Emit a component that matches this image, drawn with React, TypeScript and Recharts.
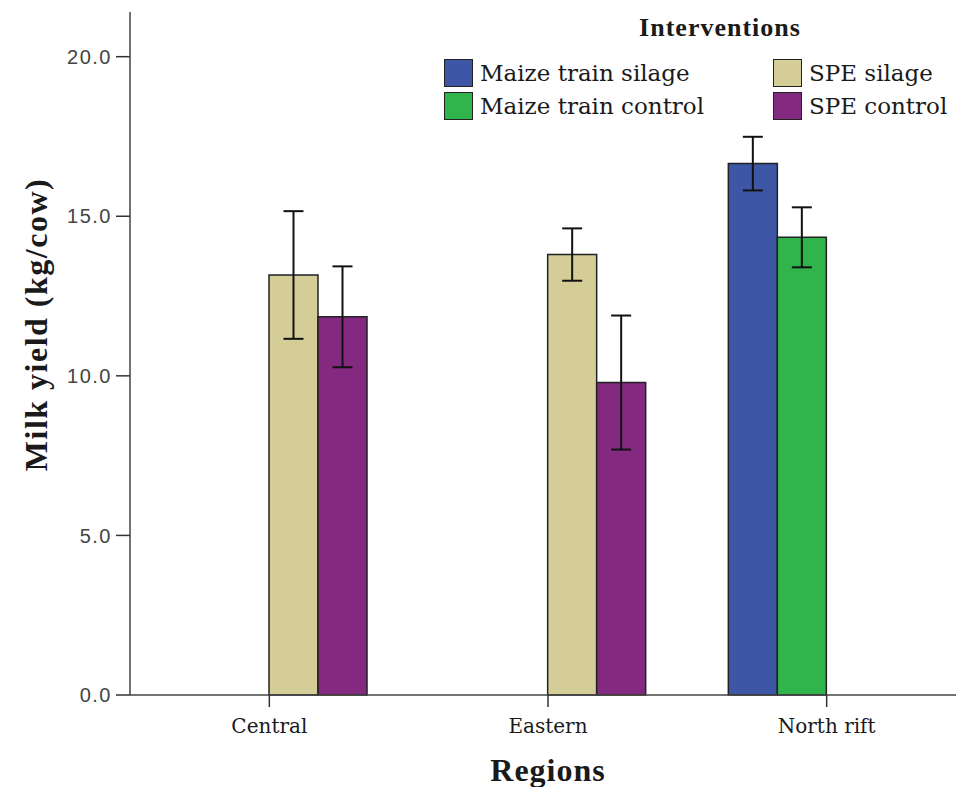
import { Bar, BarChart, ErrorBar, Legend, XAxis, YAxis } from "recharts";

// values (kg/cow, mean ± error)
const regions = ["Central", "Eastern", "North rift"];
const maizeSilage = [null, null, 16.65];
const maizeSilageErr = [null, null, 0.84];
const maizeControl = [null, null, 14.34];
const maizeControlErr = [null, null, 0.94];
const speSilage = [13.16, 13.8, null];
const speSilageErr = [2.0, 0.82, null];
const speControl = [11.85, 9.79, null];
const speControlErr = [1.58, 2.1, null];

const seriesKeys = ["maizeSilage", "maizeControl", "speSilage", "speControl"];
const seriesNames = ["Maize train silage", "Maize train control", "SPE silage", "SPE control"];
const seriesColors = ["#3d56a6", "#31b44b", "#d5cd97", "#832a80"];
const yTicks = [0, 5, 10, 15, 20];

const data = regions.map((region, i) => ({
  region,
  maizeSilage: maizeSilage[i],
  maizeSilageErr: maizeSilageErr[i],
  maizeControl: maizeControl[i],
  maizeControlErr: maizeControlErr[i],
  speSilage: speSilage[i],
  speSilageErr: speSilageErr[i],
  speControl: speControl[i],
  speControlErr: speControlErr[i],
}));

function InterventionsLegend() {
  return (
    <div style={{ position: "relative", width: 966, height: 130, color: "#1a1a1a" }}>
      <div
        style={{
          position: "absolute",
          left: 560,
          width: 320,
          top: 13,
          textAlign: "center",
          fontFamily: "'Liberation Serif', serif",
          fontWeight: 700,
          fontSize: 26,
          letterSpacing: 1,
        }}
      >
        Interventions
      </div>
      {seriesNames.map((name, i) => (
        <div
          key={name}
          style={{
            position: "absolute",
            left: i < 2 ? 444 : 773,
            top: i % 2 === 0 ? 58 : 91,
            height: 30,
            display: "flex",
            alignItems: "center",
            whiteSpace: "nowrap",
          }}
        >
          <span
            style={{
              display: "inline-block",
              width: 29,
              height: 28,
              boxSizing: "border-box",
              border: "1.5px solid #222",
              background: seriesColors[i],
            }}
          />
          <span
            style={{
              marginLeft: 7,
              fontFamily: "'DejaVu Serif', serif",
              fontSize: 23,
            }}
          >
            {name}
          </span>
        </div>
      ))}
    </div>
  );
}

export default function App() {
  return (
    <div
      style={{
        position: "absolute",
        left: 0,
        top: 0,
        width: 956,
        height: 787,
        overflow: "hidden",
        background: "#fff",
      }}
    >
      <BarChart
        width={966}
        height={787}
        data={data}
        margin={{ top: 12, right: 0, left: 0, bottom: 0 }}
        barSize={49}
        barGap={0}
      >
        <XAxis
          dataKey="region"
          height={92}
          tickSize={12}
          tickMargin={12}
          axisLine={{ stroke: "#444", strokeWidth: 1.5 }}
          tickLine={{ stroke: "#333", strokeWidth: 1.5 }}
          tick={{ fill: "#1a1a1a", fontSize: 20, fontFamily: "'DejaVu Serif', serif" }}
          label={{
            content: ({ viewBox }: any) => (
              <text
                x={viewBox.x + viewBox.width / 2}
                y={viewBox.y + 86}
                textAnchor="middle"
                fill="#1a1a1a"
                style={{ fontFamily: "'Liberation Serif', serif", fontWeight: 700, fontSize: 32, letterSpacing: 1 }}
              >
                Regions
              </text>
            ),
          }}
        />
        <YAxis
          width={130}
          domain={[0, 21.4]}
          ticks={yTicks}
          tickFormatter={(v: number) => v.toFixed(1)}
          tickSize={14}
          tickMargin={4}
          axisLine={{ stroke: "#444", strokeWidth: 1.5 }}
          tickLine={{ stroke: "#333", strokeWidth: 1.5 }}
          tick={{ fill: "#444", fontSize: 20, fontFamily: "'Liberation Sans', sans-serif", letterSpacing: 1.5 }}
          label={{
            content: ({ viewBox }: any) => {
              const cx = viewBox.x + 36;
              const cy = viewBox.y + viewBox.height / 2 - 29;
              return (
                <text
                  x={cx}
                  y={cy}
                  transform={`rotate(-90, ${cx}, ${cy})`}
                  textAnchor="middle"
                  dominantBaseline="central"
                  fill="#1a1a1a"
                  style={{ fontFamily: "'Liberation Serif', serif", fontWeight: 700, fontSize: 32, letterSpacing: 1.5 }}
                >
                  Milk yield (kg/cow)
                </text>
              );
            },
          }}
        />
        <Legend
          layout="vertical"
          align="center"
          verticalAlign="middle"
          wrapperStyle={{ position: "absolute", top: 0, left: 0, width: 966, height: 130 }}
          content={() => <InterventionsLegend />}
        />
        {seriesKeys.map((key, i) => (
          <Bar
            key={key}
            dataKey={key}
            name={seriesNames[i]}
            fill={seriesColors[i]}
            stroke="#222"
            strokeWidth={1.5}
            isAnimationActive={false}
          >
            <ErrorBar
              dataKey={`${key}Err`}
              direction="y"
              width={10}
              stroke="#111"
              strokeWidth={2}
              isAnimationActive={false}
            />
          </Bar>
        ))}
      </BarChart>
    </div>
  );
}
